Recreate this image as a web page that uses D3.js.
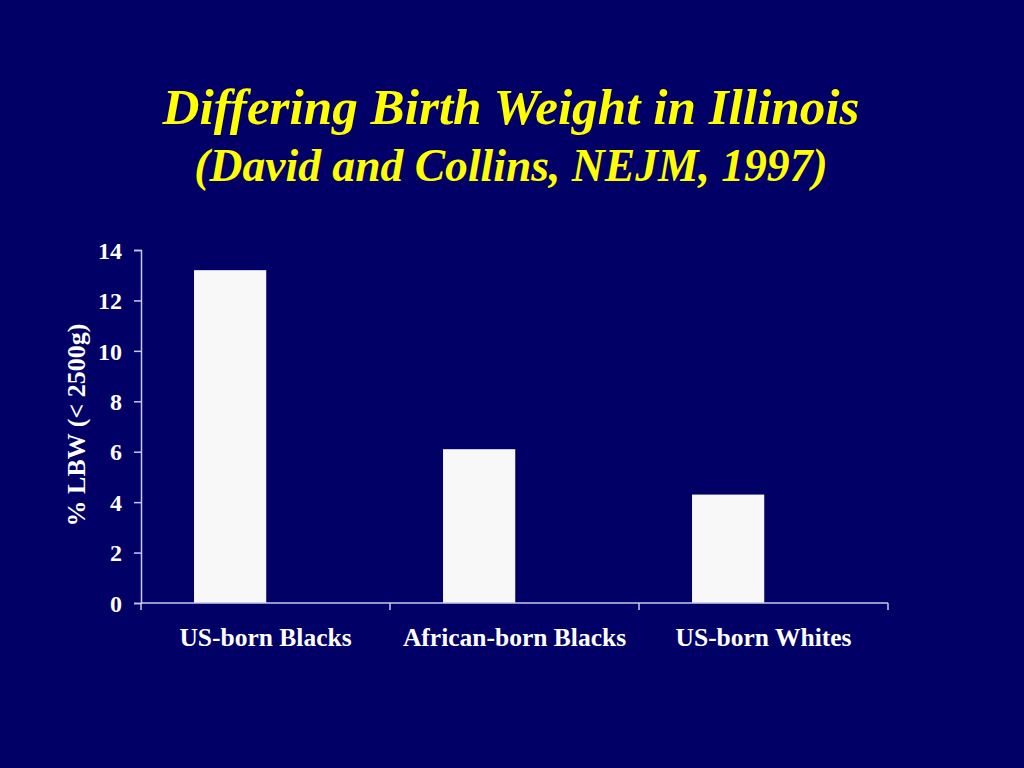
<!DOCTYPE html>
<html><head><meta charset="utf-8">
<script src="https://cdn.jsdelivr.net/npm/d3@7"></script>
<style>
html,body{margin:0;padding:0;background:#000066;}
svg{display:block;}
</style></head>
<body>
<script>
const titleLines = ["Differing Birth Weight in Illinois", "(David and Collins, NEJM, 1997)"];
const categories = ["US-born Blacks", "African-born Blacks", "US-born Whites"];
const values = [13.2, 6.1, 4.3];
const yTicks = [0, 2, 4, 6, 8, 10, 12, 14];
const yLabel = "% LBW (< 2500g)";

const W = 1024, H = 768;
const svg = d3.select("body").append("svg").attr("width", W).attr("height", H);
svg.append("rect").attr("width", W).attr("height", H).attr("fill", "#000066");

const font = "'Liberation Serif','Times New Roman',serif";
const axisColor = "#c8c8ec";

const titleStyle = [{y:124, size:51.2}, {y:181, size:45.6}];
svg.selectAll("text.title").data(titleLines).join("text")
  .attr("class","title")
  .attr("x", 511).attr("y", (d,i)=> titleStyle[i].y)
  .attr("text-anchor","middle")
  .attr("font-family", font).attr("font-style","italic").attr("font-weight","bold")
  .attr("font-size", (d,i)=> titleStyle[i].size).attr("fill","#ffff00")
  .text(d=>d);

const x = d3.scaleBand().domain(categories).range([141, 888]).paddingInner(0).paddingOuter(0);
const y = d3.scaleLinear().domain([0, 14]).range([603, 250]);

const bw = x.bandwidth();
svg.selectAll("rect.bar").data(values).join("rect")
  .attr("class","bar")
  .attr("x", (d,i)=> x(categories[i]) + bw*0.213)
  .attr("width", bw*0.29)
  .attr("y", d=> y(d))
  .attr("height", d=> y(0)-y(d))
  .attr("fill", "#f8f8f8");

// y axis
const yAxis = svg.append("g").attr("transform","translate(141,0)")
  .call(d3.axisLeft(y).tickValues(yTicks).tickSize(7).tickPadding(12).tickFormat(d3.format("d")));
yAxis.select(".domain").attr("stroke", axisColor).attr("stroke-width", 1.5);
yAxis.selectAll(".tick line").attr("stroke", axisColor).attr("stroke-width", 1.5);
yAxis.selectAll(".tick text").attr("fill","#ffffff").attr("font-family",font)
  .attr("font-weight","bold").attr("font-size", 24).attr("dy","0.34em");

// x axis
const xAxis = svg.append("g").attr("transform","translate(0,603)");
xAxis.append("line").attr("x1",141).attr("x2",888).attr("y1",0).attr("y2",0)
  .attr("stroke", axisColor).attr("stroke-width",1.5);
const bounds = categories.map(c=>x(c)).concat([x(categories[categories.length-1])+bw]);
xAxis.selectAll("line.tk").data(bounds).join("line").attr("class","tk")
  .attr("x1",d=>d).attr("x2",d=>d).attr("y1",0).attr("y2",7)
  .attr("stroke", axisColor).attr("stroke-width",1.5);
xAxis.selectAll("text.cat").data(categories).join("text").attr("class","cat")
  .attr("x", d=> x(d)+bw/2).attr("y", 43)
  .attr("text-anchor","middle").attr("fill","#ffffff").attr("font-family",font)
  .attr("font-weight","bold").attr("font-size", 25.5).text(d=>d);

svg.append("text")
  .attr("transform","translate(85,425) rotate(-90)")
  .attr("text-anchor","middle").attr("fill","#ffffff").attr("font-family",font)
  .attr("font-weight","bold").attr("font-size", 26).text(yLabel);
</script>
</body></html>
